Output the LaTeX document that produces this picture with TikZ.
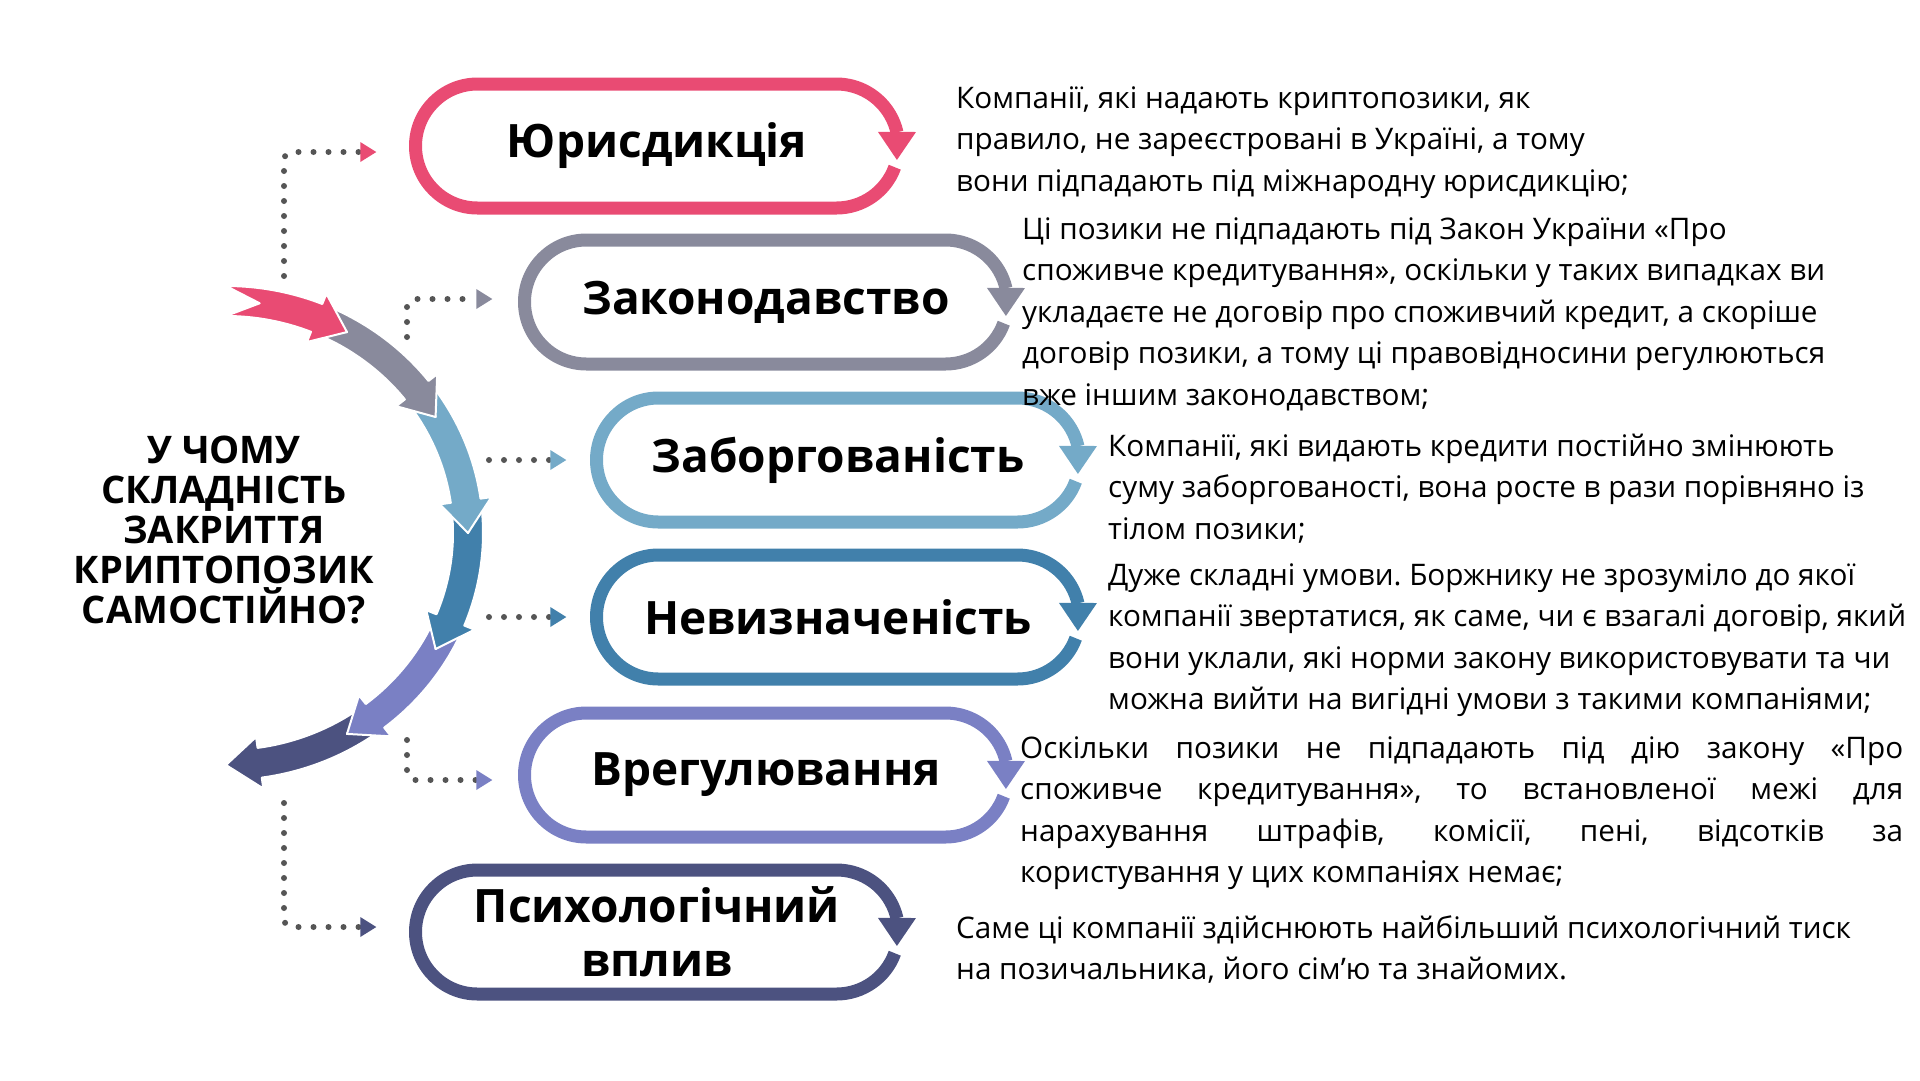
\documentclass[tikz,border=0pt]{standalone}
\usepackage{fontspec}
\setmainfont{Open Sans}
\frenchspacing
\usepackage{xcolor}
\usepackage{tikz}
\usetikzlibrary{arrows.meta}
\usetikzlibrary{bending}
\definecolor{jur_col}{HTML}{E94B73}
\definecolor{law_col}{HTML}{898A9C}
\definecolor{debt_col}{HTML}{74AAC8}
\definecolor{unk_col}{HTML}{4180AB}
\definecolor{set_col}{HTML}{7A80C4}
\definecolor{psy_col}{HTML}{4C5280}
\definecolor{dot_col}{HTML}{555555}
\tikzset{
    pill_node/.style = {align=center, inner sep=0pt, minimum width=497pt, minimum height=136pt, font=\fontsize{46}{54}\selectfont\bfseries},
    pill_line/.style = {line width=13pt, -{Triangle[width=38pt, length=28pt, line width=0pt]}},
    dot_line/.style = {dot_col, line width=6pt, line cap=round, dash pattern=on 0pt off 15pt, rounded corners=8pt},
    desc_node/.style = {anchor=base west, align=left, inner sep=0pt, font=\fontsize{29.7}{41.5}\selectfont},
    title_node/.style = {align=center, inner sep=0pt, font=\fontsize{38}{40}\selectfont\bfseries},
    arc_arrow/.style = {draw=white, line width=2pt, line join=round}
}
\newcommand{\arcarrow}[3]{%
  \filldraw[arc_arrow, fill=#3]
    ([shift={({#1}:257 and 247)}]hub) arc[start angle=#1, end angle=#2-8, x radius=257, y radius=247]
    -- ([shift={({#2-8}:268 and 258)}]hub)
    -- ([shift={({#2}:242 and 232)}]hub)
    -- ([shift={({#2-8}:216 and 206)}]hub)
    -- ([shift={({#2-8}:227 and 217)}]hub) arc[start angle=#2-8, end angle=#1, x radius=227, y radius=217]
    -- ([shift={({#1+8}:242 and 232)}]hub) -- cycle;}

\begin{document}
\begin{tikzpicture}[x=1pt, y=-1pt]
    \useasboundingbox (0,0) rectangle (1920,1080);

    \coordinate (hub) at (226,533);
    \arcarrow{52}{90}{psy_col}
    \arcarrow{22}{60}{set_col}
    \arcarrow{-8}{30}{unk_col}
    \arcarrow{-38}{0}{debt_col}
    \arcarrow{-68}{-30}{law_col}
    \arcarrow{-90}{-60}{jur_col}

    \node [title_node] (ask) at (224,530) {У ЧОМУ\\СКЛАДНІСТЬ\\ЗАКРИТТЯ\\КРИПТОПОЗИК\\САМОСТІЙНО?};

    \node [pill_node] (jur) at (657,146) {Юрисдикція};
    \node [pill_node] (law) at (766,302) {Законодавство};
    \node [pill_node] (debt) at (838,460) {Заборгованість};
    \node [pill_node] (unk) at (838,617) {Невизначеність};
    \node [pill_node] (set) at (766,775) {Врегулювання};
    \node [pill_node] (psy) at (657,932) {Психологічний\\вплив};

    \foreach \n/\c in {jur/jur_col, law/law_col, debt/debt_col, unk/unk_col, set/set_col, psy/psy_col}
        \draw [pill_line, \c] ([shift={(179.5,0)}]\n.center) ++(20:62)
            arc[start angle=20, end angle=90, radius=62] -- ++(-359,0)
            arc[start angle=90, end angle=270, radius=62] -- ++(359,0)
            arc[start angle=270, end angle=373, radius=62];

    \coordinate (d1) at (284,276);
    \coordinate (d2) at (407,337);
    \coordinate (d3) at (489,460);
    \coordinate (d4) at (489,617);
    \coordinate (d5) at (407,740);
    \coordinate (d6) at (284,803);
    \draw [dot_line, -{Triangle[width=20pt, length=16pt, line width=0pt, sep=8pt, color=jur_col]}] (d1) |- ([xshift=-24pt, yshift=-6pt]jur.west);
    \draw [dot_line, -{Triangle[width=20pt, length=16pt, line width=0pt, sep=8pt, color=law_col]}] (d2) |- ([xshift=-17pt, yshift=3pt]law.west);
    \draw [dot_line, -{Triangle[width=20pt, length=16pt, line width=0pt, sep=8pt, color=debt_col]}] (d3) -- ([xshift=-15pt]debt.west);
    \draw [dot_line, -{Triangle[width=20pt, length=16pt, line width=0pt, sep=8pt, color=unk_col]}] (d4) -- ([xshift=-15pt]unk.west);
    \draw [dot_line, -{Triangle[width=20pt, length=16pt, line width=0pt, sep=8pt, color=set_col]}] (d5) |- ([xshift=-17pt, yshift=-5pt]set.west);
    \draw [dot_line, -{Triangle[width=20pt, length=16pt, line width=0pt, sep=8pt, color=psy_col]}] (d6) |- ([xshift=-24pt, yshift=5pt]psy.west);

    \node [desc_node] (jur_txt) at (956,191) {Компанії, які надають криптопозики, як\\правило, не зареєстровані в Україні, а тому\\вони підпадають під міжнародну юрисдикцію;};
    \node [desc_node] (law_txt) at (1022,405) {Ці позики не підпадають під Закон України «Про\\споживче кредитування», оскільки у таких випадках ви\\укладаєте не договір про споживчий кредит, а скоріше\\договір позики, а тому ці правовідносини регулюються\\вже іншим законодавством;};
    \node [desc_node] (debt_txt) at (1108,539) {Компанії, які видають кредити постійно змінюють\\суму заборгованості, вона росте в рази порівняно із\\тілом позики;};
    \node [desc_node] (unk_txt) at (1108,709.5) {Дуже складні умови. Боржнику не зрозуміло до якої\\компанії звертатися, як саме, чи є взагалі договір, який\\вони уклали, які норми закону використовувати та чи\\можна вийти на вигідні умови з такими компаніями;};
    \node [desc_node] (set_txt) at (1020,882.5) {\makebox[883pt][s]{Оскільки позики не підпадають під дію закону «Про}\\\makebox[883pt][s]{споживче кредитування», то встановленої межі для}\\\makebox[883pt][s]{нарахування штрафів, комісії, пені, відсотків за}\\користування у цих компаніях немає;};
    \node [desc_node] (psy_txt) at (956,979.5) {Саме ці компанії здійснюють найбільший психологічний тиск\\на позичальника, його сім’ю та знайомих.};
\end{tikzpicture}
\end{document}
